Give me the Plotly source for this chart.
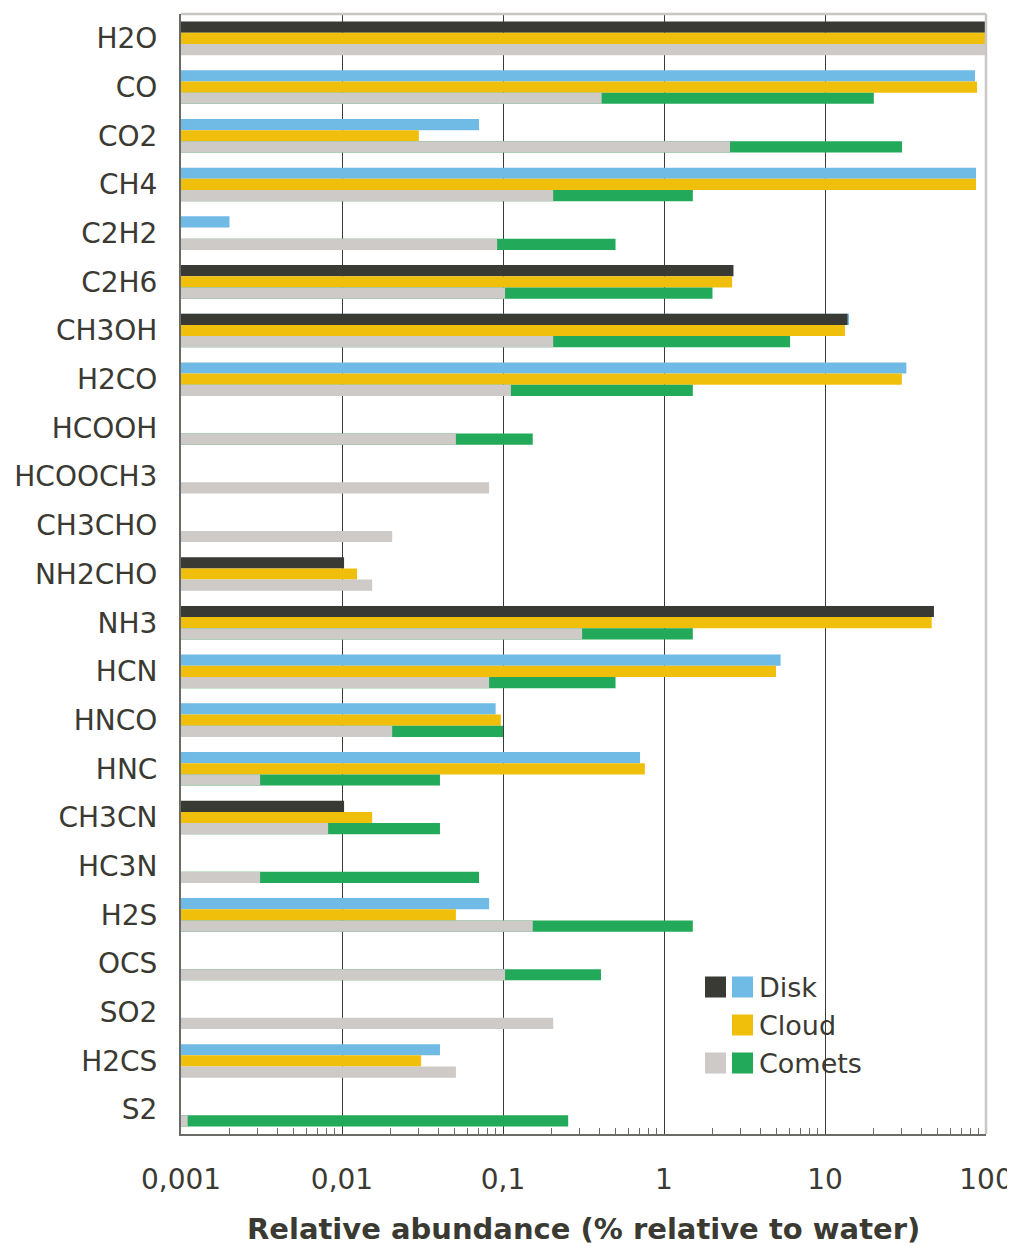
import plotly.graph_objects as go

categories = ["H2O", "CO", "CO2", "CH4", "C2H2", "C2H6", "CH3OH", "H2CO", "HCOOH",
              "HCOOCH3", "CH3CHO", "NH2CHO", "NH3", "HCN", "HNCO", "HNC", "CH3CN",
              "HC3N", "H2S", "OCS", "SO2", "H2CS", "S2"]

disk_dark = [100, None, None, None, None, 2.7, 13.8, None, None, None, None, 0.0103,
             47.5, None, None, None, 0.0103, None, None, None, None, None, None]
disk_blue = [None, 85.5, 0.071, 86.7, 0.002, None, 14.1, 32, None, None, None, None,
             None, 5.3, 0.09, 0.71, None, None, 0.082, None, None, 0.0406, None]
cloud = [100, 88, 0.03, 86.7, None, 2.65, 13.3, 30, None, None, None, 0.0124,
         46, 4.96, 0.097, 0.76, 0.0154, None, 0.051, None, None, 0.031, None]
comets_min = [100, 0.41, 2.57, 0.205, 0.092, 0.103, 0.205, 0.112, 0.051, 0.082, 0.0205,
              0.0154, 0.31, 0.082, 0.0205, 0.0031, 0.0082, 0.0031, 0.153, 0.103, 0.205,
              0.051, 0.0011]
comets_max = [None, 20.1, 30.1, 1.51, 0.5, 2.0, 6.07, 1.51, 0.153, None, None, None,
              1.51, 0.5, 0.1, 0.0406, 0.0406, 0.071, 1.51, 0.406, None, None, 0.254]

xticks = [0.001, 0.01, 0.1, 1, 10, 100]
xtick_text = ["0,001", "0,01", "0,1", "1", "10", "100"]

C_DARK = "#393a33"
C_BLUE = "#70bae6"
C_YEL = "#f0bf0c"
C_GREY = "#cdcac7"
C_GREEN = "#22aa5a"
TXT = "#3a3a33"
FONT = "DejaVu Sans"

W = 0.23
fig = go.Figure()

def add(vals, color, offset):
    fig.add_trace(go.Bar(y=categories, x=vals, orientation="h", marker_color=color,
                         marker_line_width=0, offset=offset, width=W, showlegend=False,
                         hoverinfo="x+y"))

add(disk_blue, C_BLUE, -1.5 * W)
add(disk_dark, C_DARK, -1.5 * W)
add(cloud, C_YEL, -0.5 * W)
add(comets_max, C_GREEN, 0.5 * W)
add(comets_min, C_GREY, 0.5 * W)

minor_vals = [k * 10 ** e for e in range(-3, 2) for k in range(2, 10)]

# page is offset by the 8px body margin; plot area in page pixels: x 181..986, y 14..1134
PAGE_OFF = 8
FIG_W, FIG_H = 1015 - PAGE_OFF, 1246 - PAGE_OFF
L, R, T, B = 181, 986, 14, 1134
def px(x):
    return (x - L) / (R - L)
def py(y):
    return (B - y) / (B - T)

shapes = [
    dict(type="line", xref="paper", yref="paper", x0=0, x1=1, y0=1, y1=1,
         line=dict(color="#c9c7c3", width=2.5), layer="above"),
    dict(type="line", xref="paper", yref="paper", x0=1, x1=1, y0=0, y1=1,
         line=dict(color="#c9c7c3", width=2.5), layer="above"),
]
annotations = []
legend_rows = [("Disk", [C_DARK, C_BLUE], 987), ("Cloud", [None, C_YEL], 1025),
               ("Comets", [C_GREY, C_GREEN], 1063)]
for label, cols, cy in legend_rows:
    for i, c in enumerate(cols):
        if c is None:
            continue
        x0 = 705 + i * 27
        shapes.append(dict(type="rect", xref="paper", yref="paper",
                           x0=px(x0), x1=px(x0 + 21), y0=py(cy + 10.5), y1=py(cy - 10.5),
                           fillcolor=c, line_width=0, layer="above"))
    annotations.append(dict(x=px(757), y=py(cy), xref="paper", yref="paper", text=label,
                            showarrow=False, xanchor="left", yanchor="middle",
                            font=dict(family=FONT, size=27, color=TXT)))

annotations.append(dict(x=0.5, y=py(1229), xref="paper", yref="paper",
                        text="<b>Relative abundance (% relative to water)</b>",
                        showarrow=False, xanchor="center", yanchor="middle",
                        font=dict(family=FONT, size=29, color=TXT)))

fig.update_layout(
    width=FIG_W, height=FIG_H,
    margin=dict(l=L - PAGE_OFF, r=1015 - R, t=T - PAGE_OFF, b=1246 - B, autoexpand=False),
    paper_bgcolor="white", plot_bgcolor="white",
    barmode="overlay",
    shapes=shapes, annotations=annotations,
    font=dict(family=FONT, color=TXT),
)
fig.update_xaxes(
    type="log", range=[-3, 2], tickvals=xticks, ticktext=xtick_text,
    ticks="", ticklabelstandoff=19,
    tickfont=dict(family=FONT, size=28, color=TXT),
    showgrid=True, gridcolor="#3a3a36", gridwidth=1.3,
    showline=True, linecolor="#6a6a66", linewidth=2,
    minor=dict(tickmode="array", tickvals=minor_vals, ticks="inside", ticklen=6,
               tickcolor="#6a6a66", tickwidth=1, showgrid=False),
    zeroline=False, fixedrange=True,
)
fig.update_yaxes(
    type="category", categoryorder="array", categoryarray=categories,
    autorange="reversed",
    ticks="", ticklabelstandoff=16,
    tickfont=dict(family=FONT, size=28, color=TXT),
    showgrid=False, showline=True, linecolor="#6a6a66", linewidth=2,
    zeroline=False,
)

fig.write_html("out.html")
